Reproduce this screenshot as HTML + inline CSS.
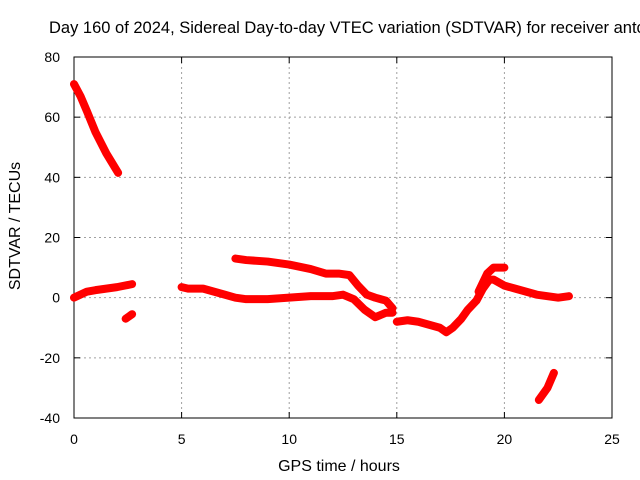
<!DOCTYPE html>
<html><head><meta charset="utf-8"><style>
body{margin:0;background:#fff}
svg{display:block;font-family:"Liberation Sans",sans-serif;font-size:14px}
</style></head><body>
<svg width="640" height="480" id="c">
<text x="49" y="33" font-size="16.5">Day 160 of 2024, Sidereal Day-to-day VTEC variation (SDTVAR) for receiver antc</text>
<g id="grid"></g>
<g id="axes"></g>
<g id="series"></g>
<text x="339" y="471" font-size="16" text-anchor="middle">GPS time / hours</text>
<text transform="translate(20,226) rotate(-90)" font-size="16" text-anchor="middle">SDTVAR / TECUs</text>
</svg>
<script>
const xTicks=[0,5,10,15,20,25];
const yTicks=[-40,-20,0,20,40,60,80];
const segA=[[0,71],[0.3,67],[0.6,62],[1,55],[1.5,48],[2.05,41.5]];
const segB=[[0,0],[0.3,1],[0.6,2],[1,2.5],[1.5,3],[2,3.5],[2.7,4.5]];
const segC=[[2.4,-7],[2.7,-5.5]];
const segD=[[5,3.5],[5.3,3],[6,3],[6.5,2],[7,1],[7.5,0],[8,-0.5],[9,-0.5],[10,0],[11,0.5],[12,0.5],[12.5,1],[13,-0.5],[13.5,-4],[14,-6.5],[14.5,-5],[14.8,-5]];
const segE=[[7.5,13],[8,12.5],[9,12],[10,11],[11,9.5],[11.7,8],[12.3,8],[12.8,7.5],[13.2,4],[13.6,1],[14,0],[14.5,-1],[14.8,-3.5]];
const segF=[[15,-8],[15.5,-7.5],[16,-8],[16.5,-9],[17,-10],[17.3,-11.5],[17.6,-10],[18,-7],[18.3,-4],[18.7,-1],[19,3],[19.3,6],[19.5,6],[20,4],[20.5,3],[21,2],[21.5,1],[22,0.5],[22.5,0],[23,0.5]];
const segG=[[18.8,2],[19.2,8],[19.5,10],[20,10]];
const segH=[[21.6,-34],[22,-30],[22.3,-25]];
const segments=[segA,segB,segC,segD,segE,segF,segG,segH];
const L=74,R=612,T=57,B=418;
const sx=v=>L+(v-0)/25*(R-L);
const sy=v=>B-(v+40)/120*(B-T);
const NS='http://www.w3.org/2000/svg';
function mk(t,a,p){const e=document.createElementNS(NS,t);for(const k in a)e.setAttribute(k,a[k]);p.appendChild(e);return e;}
const grid=document.getElementById('grid'),axes=document.getElementById('axes'),ser=document.getElementById('series');
xTicks.forEach(v=>{
 if(v>0&&v<25){const g=mk('line',{x1:sx(v),x2:sx(v),y1:T,y2:B,stroke:'#a0a0a0','stroke-dasharray':'2,3'},grid);
 }
 const t=mk('text',{x:sx(v),y:B+26,'text-anchor':'middle'},axes);t.textContent=v;
 
 mk('line',{x1:sx(v),x2:sx(v),y1:B,y2:B-6,stroke:'#000'},axes);
 mk('line',{x1:sx(v),x2:sx(v),y1:T,y2:T+6,stroke:'#000'},axes);
});
yTicks.forEach(v=>{
 if(v>-40&&v<80){const g=mk('line',{x1:L,x2:R,y1:sy(v),y2:sy(v),stroke:'#a0a0a0','stroke-dasharray':'2,3'},grid);
 }
 const t=mk('text',{x:L-14,y:sy(v)+5,'text-anchor':'end'},axes);t.textContent=v;
 
 mk('line',{x1:L,x2:L+6,y1:sy(v),y2:sy(v),stroke:'#000'},axes);
 mk('line',{x1:R,x2:R-6,y1:sy(v),y2:sy(v),stroke:'#000'},axes);
});
const fr=mk('rect',{x:L,y:T,width:R-L,height:B-T,fill:'none',stroke:'#000'},axes);

segments.forEach(s=>{
 const p=mk('polyline',{points:s.map(d=>sx(d[0])+','+sy(d[1])).join(' '),fill:'none',stroke:'#ff0000','stroke-width':8,'stroke-linejoin':'round','stroke-linecap':'round'},ser);
 
});
</script>
</body></html>
